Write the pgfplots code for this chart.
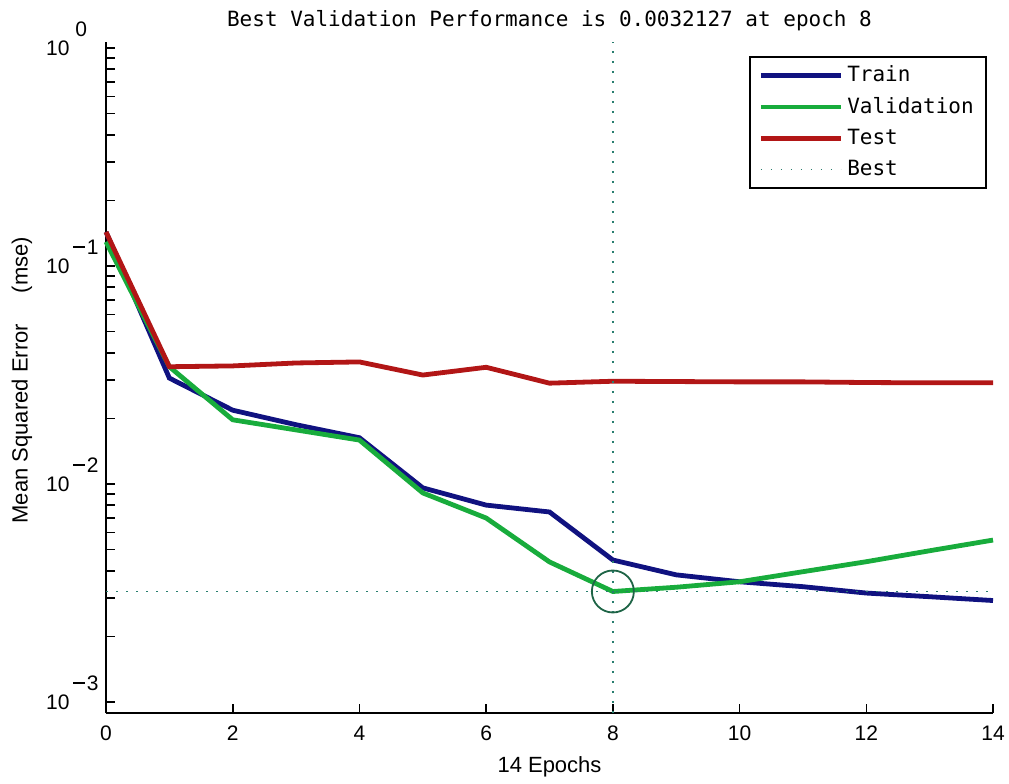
\documentclass[border=0pt]{standalone}
\usepackage{fontspec}
\setmainfont{Liberation Sans}
\newfontfamily\monofont{DejaVu Sans Mono}
\usepackage{pgfplots}
\pgfplotsset{compat=1.18}

\definecolor{trainc}{RGB}{16,18,128}
\definecolor{valc}{RGB}{24,172,60}
\definecolor{testc}{RGB}{178,22,22}
\definecolor{bestc}{RGB}{40,125,110}
\definecolor{circc}{RGB}{30,100,70}

% long minus for the exponents
\newcommand{\expminus}{\rule[3.3pt]{5.6pt}{0.75pt}\kern1.2pt}

\begin{document}
\begin{tikzpicture}
\begin{axis}[
  name=ax,
  scale only axis, width=443.5pt, height=335.5pt,
  ymode=log,
  xmin=0, xmax=14, ymin=8.9e-4, ymax=1.065,
  axis x line*=bottom, axis y line*=left,
  axis line style={line width=0.9pt, black},
  /pgf/number format/assume math mode=true,
  xtick={0,2,...,14},
  ytick={1e-3,1e-2,1e-1,1},
  yticklabels={10,10,10,10},
  minor ytick={2e-3,3e-3,4e-3,5e-3,6e-3,7e-3,8e-3,9e-3,
               2e-2,3e-2,4e-2,5e-2,6e-2,7e-2,8e-2,9e-2,
               2e-1,3e-1,4e-1,5e-1,6e-1,7e-1,8e-1,9e-1},
  tick align=inside,
  major tick length=4.5pt, minor tick length=4.5pt,
  every tick/.style={black, line width=0.8pt},
  tick label style={font=\fontsize{10.5}{12}\selectfont},
  xticklabel style={yshift=-3pt},
  yticklabel style={anchor=east, inner sep=0pt, xshift=-18pt},
  title={\monofont\fontsize{10.5}{12}\selectfont Best Validation Performance is 0.0032127 at epoch 8},
  title style={at={(0.5,1)}, anchor=base, yshift=1.5pt},
  xlabel={14 Epochs},
  xlabel style={at={(axis description cs:0.5,-0.0805)}, anchor=center, font=\fontsize{11}{13}\selectfont},
  ylabel={Mean Squared Error\hspace{1.4em}(mse)},
  ylabel style={at={(axis description cs:-0.0947,0.496)}, anchor=center, rotate=0, font=\fontsize{11}{13}\selectfont},
  legend style={at={(rel axis cs:1,1)}, anchor=north east, xshift=-3pt, yshift=-7pt,
    draw=black, line width=0.8pt, fill=white,
    font=\monofont\fontsize{10.5}{12}\selectfont,
    inner xsep=4.25pt, inner ysep=2.5pt, row sep=2.4pt,
    nodes={inner sep=2pt}},
  legend cell align=left,
  legend image code/.code={\draw[#1] (0pt,0pt) -- (40pt,0pt);},
  clip=false,
]
% training error per epoch
\addplot[trainc, line width=2.4pt] coordinates {
  (0,0.1432) (1,0.0306) (2,0.0218) (3,0.0187) (4,0.0163) (5,0.0096)
  (6,0.0080) (7,0.00744) (8,0.00448) (9,0.00383) (10,0.00356)
  (11,0.00338) (12,0.00316) (13,0.00304) (14,0.00292)};
\addlegendentry{Train}
% validation error per epoch
\addplot[valc, line width=2.4pt] coordinates {
  (0,0.129) (1,0.0345) (2,0.0197) (3,0.0177) (4,0.0159) (5,0.0091)
  (6,0.00698) (7,0.00439) (8,0.0032127) (9,0.00336) (10,0.00356)
  (11,0.00396) (12,0.00440) (13,0.00494) (14,0.00553)};
\addlegendentry{Validation}
% test error per epoch
\addplot[testc, line width=2.4pt] coordinates {
  (0,0.1432) (1,0.0345) (2,0.0348) (3,0.0359) (4,0.0363) (5,0.0316)
  (6,0.0343) (7,0.0290) (8,0.0296) (9,0.0295) (10,0.0294)
  (11,0.0294) (12,0.0292) (13,0.0291) (14,0.0291)};
\addlegendentry{Test}
% best epoch markers
\addplot[bestc, line width=0.8pt, dash pattern=on 0.8pt off 4.2pt] coordinates {
  (8,8.9e-4) (8,1.065)};
\addlegendentry{Best}
\addplot[bestc, line width=0.8pt, dash pattern=on 0.8pt off 4.2pt, forget plot] coordinates {
  (0,0.0032127) (14,0.0032127)};
\addplot[circc, only marks, mark=o, mark size=10.5pt, mark options={line width=0.9pt}, forget plot]
  coordinates {(8,0.0032127)};
% raised exponents of the decade labels
\begin{scope}[every node/.style={anchor=west, inner sep=0pt, font=\fontsize{10.5}{12}\selectfont}]
  \node[xshift=-15.5pt, yshift=9.5pt] at (axis cs:0,1)     {0};
  \node[xshift=-16.5pt, yshift=9.5pt] at (axis cs:0,1e-1)  {\expminus 1};
  \node[xshift=-16.5pt, yshift=9.5pt] at (axis cs:0,1e-2)  {\expminus 2};
  \node[xshift=-16.5pt, yshift=9.5pt] at (axis cs:0,1e-3)  {\expminus 3};
\end{scope}
\end{axis}
\pgfresetboundingbox
\path[use as bounding box] ([xshift=-53pt,yshift=-35pt]ax.south west) rectangle ([xshift=8pt,yshift=21pt]ax.north east);
\end{tikzpicture}
\end{document}
